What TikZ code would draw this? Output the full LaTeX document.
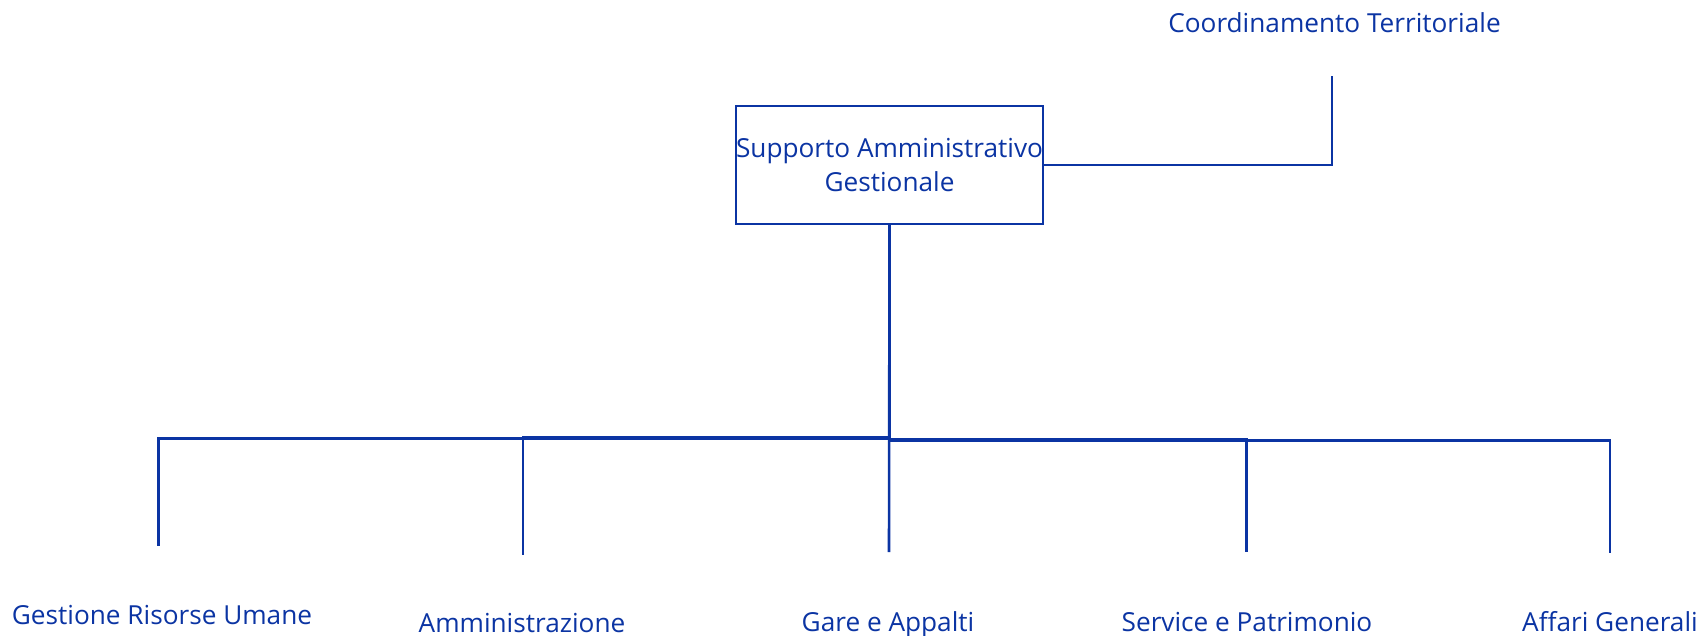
\documentclass[tikz,border=0pt]{standalone}
\usepackage{fontspec}
\setmainfont{Open Sans}
\usepackage{xcolor}
\usepackage{tikz}
\usetikzlibrary{positioning}
\definecolor{orgblue}{HTML}{0B34A3}

\begin{document}
\begin{tikzpicture}[
    x=0.5pt, y=-0.5pt,
    unit/.style={rectangle, draw=orgblue, line width=1.25pt, text=orgblue, minimum width=151.5pt, minimum height=59pt, inner sep=0pt, align=center, font=\fontsize{13.1pt}{17.2pt}\selectfont},
    lbl/.style={text=orgblue, inner sep=0pt, anchor=base, font=\fontsize{13.1pt}{17.2pt}\selectfont},
    link/.style={draw=orgblue, line width=1.3pt}
]
\useasboundingbox (0,0) rectangle (1701,636);

\node[unit] (sag) at (889.5,165) {Supporto Amministrativo\\Gestionale};

\node[lbl] (coord) at (1334.5,33) {Coordinamento Territoriale};
\coordinate (coordT) at (1332,76);

\node[lbl] (gru) at (162,624) {Gestione Risorse Umane};
\node[lbl] (amm) at (522,632) {Amministrazione};
\node[lbl] (gare) at (888,631) {Gare e Appalti};
\node[lbl] (serv) at (1247,631) {Service e Patrimonio};
\node[lbl] (affari) at (1610,631) {Affari Generali};

\coordinate (gruT) at (158.5,546);
\coordinate (ammT) at (523,555);
\coordinate (gareT) at (889,552);
\coordinate (servT) at (1246.5,552);
\coordinate (affariT) at (1610,553);

\draw[link] (sag.east) -| (coordT);

\draw[link] (sag.south) -- ++(0,213) -| (gruT);
\draw[link] (sag.south) -- ++(0,212.5) -| (ammT);
\draw[link] (sag.south) -- (gareT);
\draw[link] (sag.south) -- ++(0,214) -| (servT);
\draw[link] (sag.south) -- ++(0,215) -| (affariT);
\end{tikzpicture}
\end{document}
